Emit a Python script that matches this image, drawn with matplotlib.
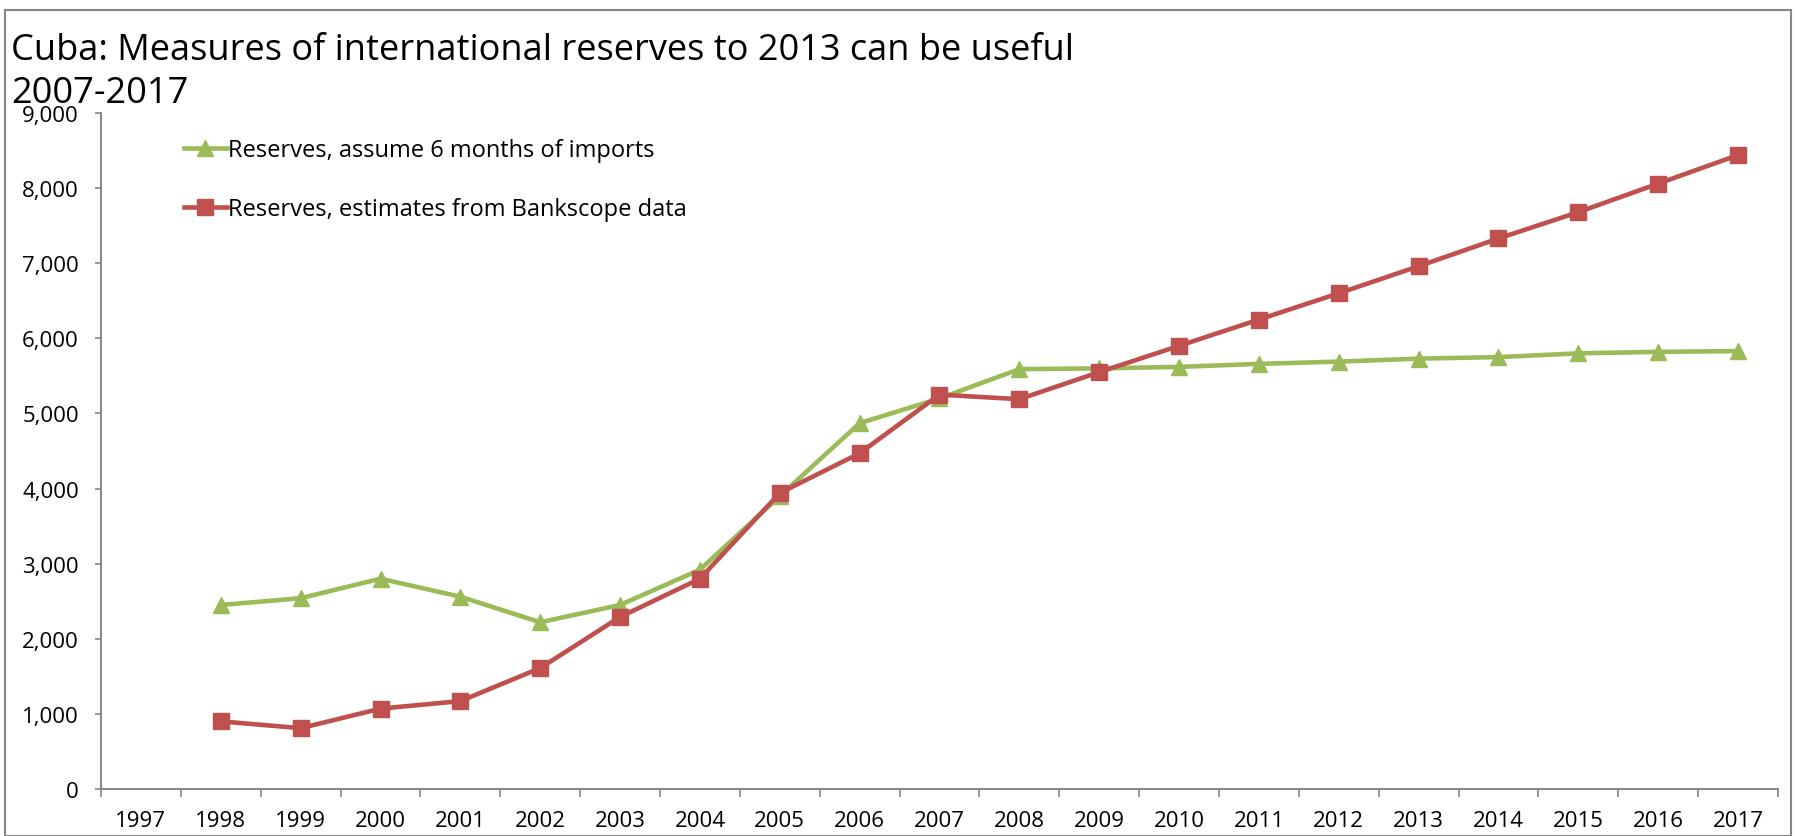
import matplotlib
matplotlib.use("Agg")
import matplotlib.pyplot as plt
import numpy as np
from matplotlib.patches import Rectangle

# data
years = [str(y) for y in range(1997, 2018)]
data_years = list(range(1998, 2018))
reserves_imports = [2450, 2540, 2800, 2560, 2220, 2450, 2920, 3900, 4870, 5200,
                    5590, 5600, 5620, 5660, 5690, 5730, 5750, 5800, 5820, 5830]
reserves_bankscope = [900, 810, 1070, 1170, 1610, 2290, 2800, 3940, 4470, 5250,
                      5190, 5550, 5900, 6250, 6600, 6960, 7330, 7680, 8060, 8440]

GREEN = "#9BBB59"
RED = "#C0504D"
AXIS_GRAY = "#868686"

plt.rcParams['font.family'] = ['Open Sans', 'DejaVu Sans']

W, H = 1795, 837
fig = plt.figure(figsize=(W / 100, H / 100), dpi=100)

# axes placement in pixels
left, right, bottom, top = 101, 1778, 790, 114
ax = fig.add_axes([left / W, (H - bottom) / H, (right - left) / W, (bottom - top) / H])

x_data = [years.index(str(y)) for y in data_years]
ax.plot(x_data, reserves_imports, color=GREEN, lw=3.3, marker="^", markersize=12,
        label="Reserves, assume 6 months of imports")
ax.plot(x_data, reserves_bankscope, color=RED, lw=3.3, marker="s", markersize=11,
        label="Reserves, estimates from Bankscope data")

ax.set_xlim(-0.5, len(years) - 0.5)
ax.set_ylim(0, 9000)

# category axis: ticks between categories, labels at centres
ax.set_xticks(np.arange(-0.5, len(years), 1.0))
ax.set_xticklabels([])
ax.set_xticks(np.arange(len(years)), minor=True)
ax.set_xticklabels(years, minor=True)
ax.tick_params(axis="x", which="major", length=6, color=AXIS_GRAY, width=1.2, direction="out")
ax.tick_params(axis="x", which="minor", length=0, pad=15, labelsize=16)

ax.set_yticks(np.arange(0, 9001, 1000))
ax.set_yticklabels([f"{v:,}" for v in range(0, 9001, 1000)])
ax.tick_params(axis="y", length=4, color=AXIS_GRAY, width=1.2, labelsize=16, pad=12)

for side in ["top", "right"]:
    ax.spines[side].set_visible(False)
for side in ["left", "bottom"]:
    ax.spines[side].set_color(AXIS_GRAY)
    ax.spines[side].set_linewidth(1.4)

leg = ax.legend(loc="upper left", bbox_to_anchor=(0.044, 0.977), frameon=False,
                handlelength=1.8, handletextpad=0.05, labelspacing=1.5,
                fontsize=17, borderaxespad=0)

# titles
fig.text(11 / W, 1 - 60 / H, "Cuba: Measures of international reserves to 2013 can be useful",
         fontsize=26, va="baseline", ha="left")
fig.text(11 / W, 1 - 103 / H, "2007-2017", fontsize=26, va="baseline", ha="left")

# chart area border
fig.patches.append(Rectangle((5 / W, 0), (1791 - 5) / W, (H - 11) / H, transform=fig.transFigure,
                             fill=False, edgecolor=AXIS_GRAY, lw=1.5))

fig.savefig("out.png", dpi=100)
